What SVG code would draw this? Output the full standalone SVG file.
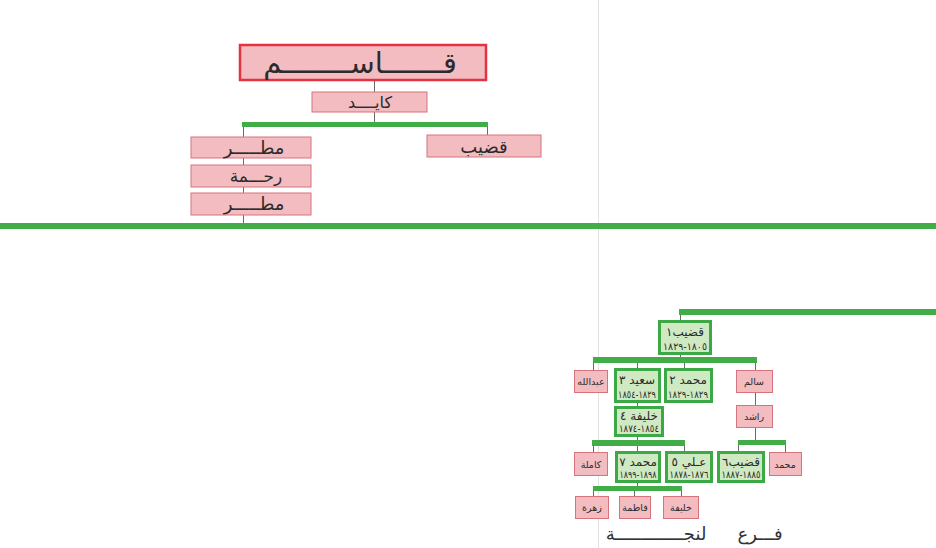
<svg xmlns="http://www.w3.org/2000/svg" width="936" height="548" viewBox="0 0 936 548">
<style>
.pk{fill:#f3bcc0;stroke:#d6737c;stroke-width:1}
.pkb{fill:#f3bcc0;stroke:#e23340;stroke-width:2.5}
.gn{fill:#cfeac2;stroke:#3da846;stroke-width:3}
.bar{fill:#40ad48}
.ln{stroke:#6a6a6a;stroke-width:1;fill:none}
text{font-family:"DejaVu Sans",sans-serif;fill:#2b2b2b;text-anchor:middle;direction:rtl}
.n{font-size:12px}
.d{font-size:10px}
.s{font-size:9.5px}
</style>
<rect width="936" height="548" fill="#ffffff"/>
<line x1="598.5" y1="0" x2="598.5" y2="548" stroke="#e2e2e2" stroke-width="1"/>

<g id="connectors">
  <rect class="bar" x="242" y="122" width="246" height="5"/>
  <rect class="bar" x="0" y="223" width="936" height="6"/>
  <rect class="bar" x="679" y="309" width="257" height="6"/>
  <rect class="bar" x="593" y="357" width="164" height="6"/>
  <rect class="bar" x="592" y="440" width="93" height="6"/>
  <rect class="bar" x="738" y="440" width="48" height="5"/>
  <rect class="bar" x="593" y="486" width="89" height="5"/>
  <path class="ln" d="M374.5 80V92M374.5 112V122M243.5 127V137M487.5 127V135M243.5 158V165M243.5 187V193M243.5 215V223"/>
  <path class="ln" d="M680.5 315V321M680.5 354V357M593.5 363V370M637.5 363V369M684.5 363V369M755.5 363V370M755.5 393V405M755.5 428V440M637.5 402V407M637.5 436V440M593.5 446V452M637.5 446V452M684.5 446V452M738.5 445V452M785.5 445V452M637.5 482V486M593.5 491V496M634.5 491V496M681.5 491V496"/>
</g>

<g id="qasim"><rect class="pkb" x="240" y="45" width="246" height="35"/><text x="360" y="73" style="font-size:29px">قـــــــاســــــــم</text></g>
<g id="kayed"><rect class="pk" x="312" y="92" width="115" height="20"/><text x="370" y="108" style="font-size:16px">كايــــد</text></g>
<g id="qadib-top"><rect class="pk" x="427" y="135" width="114" height="22"/><text x="484" y="153" style="font-size:18px">قضيب</text></g>
<g id="matar1"><rect class="pk" x="191" y="137" width="120" height="21"/><text x="254" y="154" style="font-size:18px">مطـــــر</text></g>
<g id="rahma"><rect class="pk" x="191" y="165" width="120" height="22"/><text x="256" y="182" style="font-size:17px">رحـــمة</text></g>
<g id="matar2"><rect class="pk" x="191" y="193" width="120" height="22"/><text x="254" y="210" style="font-size:18px">مطـــــر</text></g>

<g id="qadib1"><rect class="gn" x="659.5" y="321.5" width="51" height="32"/><text class="n" x="685" y="336">قضيب١</text><text class="d" x="685" y="350" textLength="44" lengthAdjust="spacingAndGlyphs">١٨٠٥-١٨٢٩</text></g>
<g id="abdullah"><rect class="pk" x="574.5" y="370.5" width="33" height="22"/><text class="s" x="591" y="385">عبدالله</text></g>
<g id="said3"><rect class="gn" x="615.5" y="369.5" width="44" height="32"/><text class="n" x="637" y="384">سعيد ٣</text><text class="d" x="637" y="398" textLength="38" lengthAdjust="spacingAndGlyphs">١٨٢٩-١٨٥٤</text></g>
<g id="mohammed2"><rect class="gn" x="665.5" y="369.5" width="46" height="32"/><text class="n" x="688" y="384">محمد ٢</text><text class="d" x="688" y="398" textLength="40" lengthAdjust="spacingAndGlyphs">١٨٢٩-١٨٢٩</text></g>
<g id="salem"><rect class="pk" x="736.5" y="370.5" width="36" height="22"/><text class="s" x="754" y="385">سالم</text></g>
<g id="rashid"><rect class="pk" x="736.5" y="405.5" width="36" height="22"/><text class="s" x="754" y="420">راشد</text></g>
<g id="khalifa4"><rect class="gn" x="615.5" y="407.5" width="47" height="28"/><text class="n" x="639" y="420">خليفة ٤</text><text class="d" x="639" y="432" textLength="40" lengthAdjust="spacingAndGlyphs">١٨٥٤-١٨٧٤</text></g>
<g id="kamla"><rect class="pk" x="574.5" y="452.5" width="33" height="23"/><text class="s" x="591" y="468">كاملة</text></g>
<g id="mohammed7"><rect class="gn" x="616.5" y="452.5" width="43" height="29"/><text class="n" x="638" y="466">محمد ٧</text><text class="d" x="638" y="478" textLength="37" lengthAdjust="spacingAndGlyphs">١٨٩٨-١٨٩٩</text></g>
<g id="ali5"><rect class="gn" x="666.5" y="452.5" width="45" height="29"/><text class="n" x="689" y="466">عـلي ٥</text><text class="d" x="689" y="478" textLength="39" lengthAdjust="spacingAndGlyphs">١٨٧٦-١٨٧٨</text></g>
<g id="qadib6"><rect class="gn" x="718.5" y="452.5" width="45" height="29"/><text class="n" x="741" y="466">قضيب٦</text><text class="d" x="741" y="478" textLength="39" lengthAdjust="spacingAndGlyphs">١٨٨٥-١٨٨٧</text></g>
<g id="mohammed-r"><rect class="pk" x="769.5" y="452.5" width="32" height="23"/><text class="s" x="785" y="468">محمد</text></g>
<g id="zahra"><rect class="pk" x="575.5" y="496.5" width="33" height="22"/><text class="s" x="592" y="511">زهرة</text></g>
<g id="fatima"><rect class="pk" x="619.5" y="496.5" width="31" height="22"/><text class="s" x="635" y="511">فاطمة</text></g>
<g id="khalifa"><rect class="pk" x="663.5" y="496.5" width="35" height="22"/><text class="s" x="681" y="511">خليفة</text></g>

<text x="760" y="540" style="font-size:18px;fill:#333">فـــرع</text>
<text x="656" y="540" style="font-size:18px;fill:#333">لنجـــــــــــــة</text>
</svg>
